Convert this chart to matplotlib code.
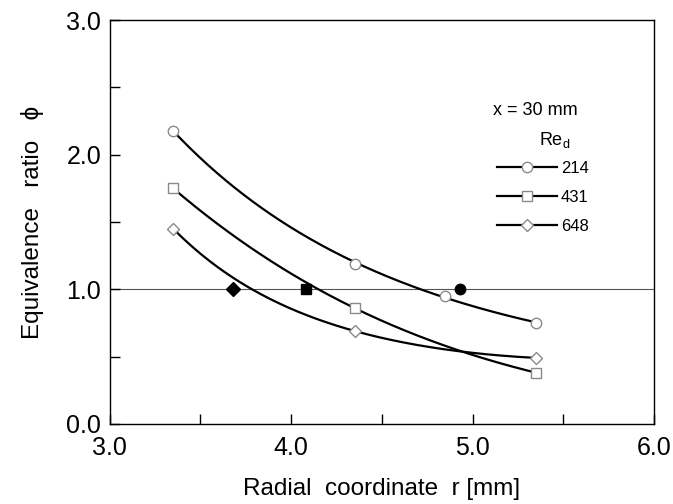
import numpy as np
import matplotlib.pyplot as plt
from matplotlib.lines import Line2D

plt.rcParams['font.family'] = ['Liberation Sans', 'DejaVu Sans']

# measured points, phi vs r for each Re_d
r_214 = [3.35, 4.35, 4.85, 5.35]
phi_214 = [2.18, 1.19, 0.95, 0.75]
r_431 = [3.35, 4.35, 5.35]
phi_431 = [1.75, 0.86, 0.38]
r_648 = [3.35, 4.35, 5.35]
phi_648 = [1.45, 0.69, 0.49]

# stoichiometric points (filled)
r_stoich = [4.93, 4.08, 3.68]
phi_stoich = [1.0, 1.0, 1.0]

labels = ['214', '431', '648']
markers = ['o', 's', 'D']

fig = plt.figure(figsize=(6.73, 5.04), dpi=100)
ax = fig.add_axes([0.163, 0.159, 0.809, 0.801])

ax.axhline(1.0, color='#555555', lw=0.8, zorder=1)

series = [(r_214, phi_214), (r_431, phi_431), (r_648, phi_648)]
handles = []
for (r, phi), m, lab in zip(series, markers, labels):
    r = np.array(r)
    phi = np.array(phi)
    # smooth fit curve (quadratic in log phi)
    coef = np.polyfit(r, np.log(phi), 2)
    rr = np.linspace(r.min(), r.max(), 200)
    ax.plot(rr, np.exp(np.polyval(coef, rr)), color='black', lw=1.6, zorder=2)
    ms = 6.5 if m == 'D' else 7.5
    ax.plot(r, phi, ls='none', marker=m, ms=ms, mfc='white', mec='#8a8a8a',
            mew=1.0, zorder=3)
    handles.append(Line2D([], [], color='black', lw=1.6, marker=m, ms=ms,
                          mfc='white', mec='#8a8a8a', mew=1.0, label=lab))

for r, phi, m in zip(r_stoich, phi_stoich, ['o', 's', 'D']):
    ax.plot(r, phi, ls='none', marker=m, ms=7.5 if m != 'D' else 7,
            color='black', zorder=4)

ax.set_xlim(3.0, 6.0)
ax.set_ylim(0.0, 3.0)
ax.set_xticks([3.0, 4.0, 5.0, 6.0])
ax.set_xticks([3.5, 4.5, 5.5], minor=True)
ax.set_yticks([0.0, 1.0, 2.0, 3.0])
ax.set_yticks([0.5, 1.5, 2.5], minor=True)
ax.set_xticklabels(['3.0', '4.0', '5.0', '6.0'])
ax.set_yticklabels(['0.0', '1.0', '2.0', '3.0'])
ax.tick_params(which='both', direction='in', labelsize=18, width=1.0)
ax.tick_params(which='major', length=7)
ax.tick_params(which='minor', length=7)
ax.tick_params(axis='x', which='major', pad=9)
ax.tick_params(axis='y', which='major', pad=6)
for s in ax.spines.values():
    s.set_linewidth(1.0)

ax.set_xlabel('Radial  coordinate  r [mm]', fontsize=17.5, labelpad=13)
ax.set_ylabel('Equivalence   ratio   \u03d5', fontsize=17.5, labelpad=16)

ax.text(0.781, 0.777, 'x = 30 mm', transform=ax.transAxes, fontsize=13,
        ha='center', va='center')
ax.text(0.818, 0.703, 'Re$_\\mathregular{d}$', transform=ax.transAxes,
        fontsize=13, ha='center', va='center')
ax.legend(handles=handles, loc='upper left', bbox_to_anchor=(0.711, 0.652),
          frameon=False, fontsize=12, handlelength=3.6, handletextpad=0.25,
          labelspacing=0.85, borderaxespad=0, borderpad=0)

fig.savefig('out.png', dpi=100)
